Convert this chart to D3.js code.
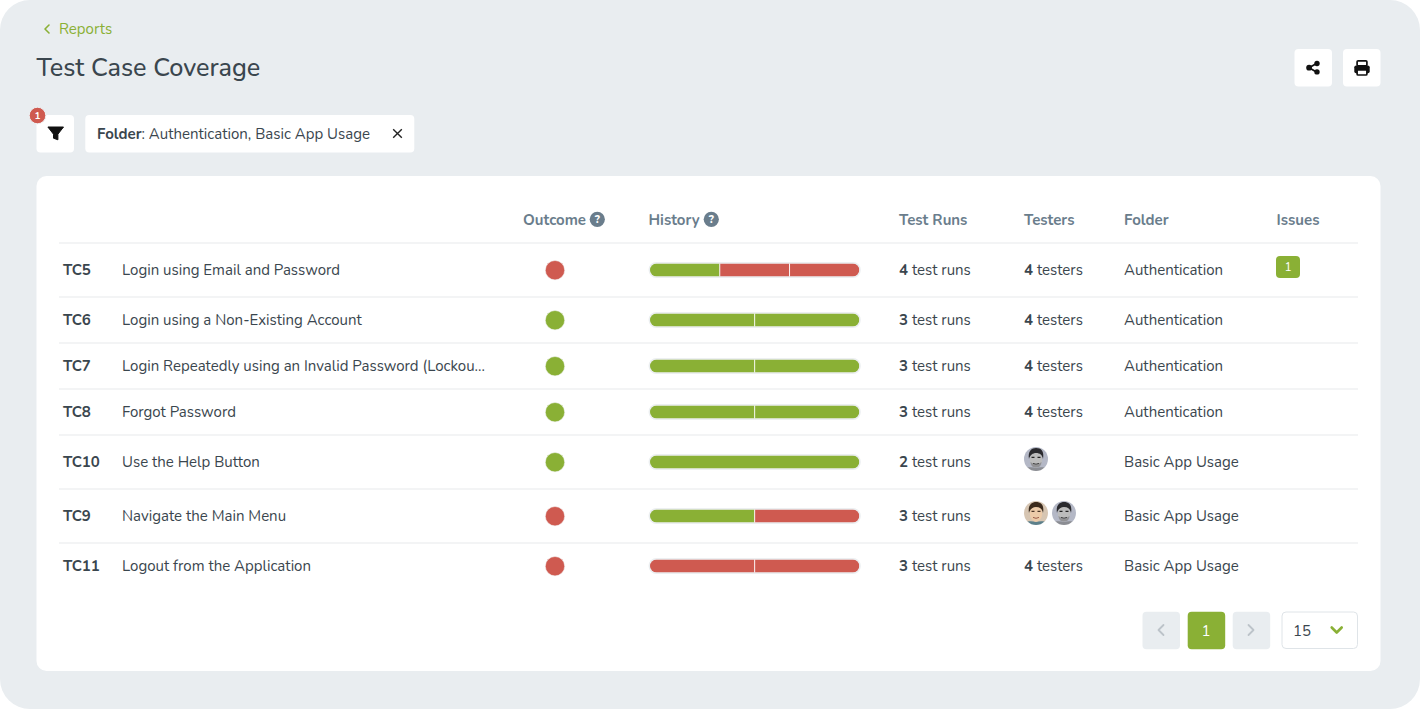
<!DOCTYPE html>
<html>
<head>
<meta charset="utf-8">
<script src="https://cdn.jsdelivr.net/npm/d3@7"></script>
<style>
  html, body { margin: 0; padding: 0; background: #fff; }
  svg { display: block; }
  text { font-family: "Nunito", "Lato", "Noto Sans", sans-serif; }
</style>
</head>
<body>
<div id="chart"></div>
<script>
// table data
var caseIds = ["TC5", "TC6", "TC7", "TC8", "TC10", "TC9", "TC11"];
var caseNames = [
  "Login using Email and Password",
  "Login using a Non-Existing Account",
  "Login Repeatedly using an Invalid Password (Lockou...",
  "Forgot Password",
  "Use the Help Button",
  "Navigate the Main Menu",
  "Logout from the Application"
];
var outcomes = ["fail", "pass", "pass", "pass", "pass", "fail", "fail"];
var histories = [
  ["pass", "fail", "fail"],
  ["pass", "pass"],
  ["pass", "pass"],
  ["pass", "pass"],
  ["pass"],
  ["pass", "fail"],
  ["fail", "fail"]
];
var testRuns = [4, 3, 3, 3, 2, 3, 3];
var testerCounts = [4, 4, 4, 4, null, null, 4];
var testerAvatars = [[], [], [], [], ["gray"], ["color", "gray"], []];
var folders = ["Authentication", "Authentication", "Authentication", "Authentication",
  "Basic App Usage", "Basic App Usage", "Basic App Usage"];
var issues = [1, 0, 0, 0, 0, 0, 0];

var colors = { pass: "#8ab035", fail: "#cf5a50" };
var ink = "#3a464e", headInk = "#6a7d8c", line = "#eff1f2", pageBg = "#e9edf0";

var width = 1420, height = 709;
var svg = d3.select("#chart").append("svg").attr("width", width).attr("height", height);

svg.append("rect").attr("width", width).attr("height", height).attr("rx", 30).attr("fill", pageBg);

var defs = svg.append("defs");
defs.append("filter").attr("id", "soft").append("feGaussianBlur").attr("stdDeviation", 0.45);
defs.append("clipPath").attr("id", "avatarClip").append("circle").attr("r", 12);

function txt(x, y, s, size, fill, weight, anchor) {
  return svg.append("text").attr("x", x).attr("y", y).attr("dy", "0.35em")
    .attr("font-size", size).attr("fill", fill).attr("font-weight", weight || 400)
    .attr("text-anchor", anchor || "start").text(s);
}
function box(x, y, w, h, fill, r) {
  return svg.append("rect").attr("x", x).attr("y", y).attr("width", w).attr("height", h)
    .attr("rx", r || 4).attr("fill", fill || "#fff");
}
function chevron(cx, cy, size, dir, color, sw) {
  var d = dir == "left" ? [[size / 2, -size], [-size / 2, 0], [size / 2, size]]
    : dir == "right" ? [[-size / 2, -size], [size / 2, 0], [-size / 2, size]]
    : [[-size, -size / 2], [0, size / 2], [size, -size / 2]];
  svg.append("path").attr("transform", `translate(${cx},${cy})`)
    .attr("d", d3.line()(d)).attr("fill", "none").attr("stroke", color)
    .attr("stroke-width", sw).attr("stroke-linecap", "round").attr("stroke-linejoin", "round");
}

// header
chevron(47, 29, 4, "left", colors.pass, 1.6);
txt(59, 29, "Reports", 15, colors.pass);
txt(36.5, 67.5, "Test Case Coverage", 25.2, ink, 500);

// share + print buttons
box(1294.5, 49, 37.5, 37.5);
box(1343, 49, 37.5, 37.5);
var share = svg.append("g").attr("transform", "translate(1313,67.7)");
share.append("path").attr("d", "M4,-4.5L-4,0L4,4.5").attr("stroke", "#111").attr("stroke-width", 1.8).attr("fill", "none");
share.selectAll("circle").data([[4, -4.2, 2.7], [-3.9, 0, 2.9], [4, 4.2, 2.7]]).join("circle")
  .attr("cx", d => d[0]).attr("cy", d => d[1]).attr("r", d => d[2]).attr("fill", "#111");
var printer = svg.append("g").attr("transform", "translate(1362,68)");
printer.append("rect").attr("x", -4.9).attr("y", -7.2).attr("width", 9.8).attr("height", 5).attr("rx", 1)
  .attr("fill", "none").attr("stroke", "#111").attr("stroke-width", 1.7);
printer.append("rect").attr("x", -7.7).attr("y", -2.6).attr("width", 15.4).attr("height", 7.8).attr("rx", 1.8).attr("fill", "#111");
printer.append("rect").attr("x", -4.9).attr("y", 2).attr("width", 9.8).attr("height", 5).attr("rx", 1)
  .attr("fill", "#fff").attr("stroke", "#111").attr("stroke-width", 1.7);

// filter row
box(36.5, 115, 37.5, 37.5);
svg.append("path").attr("transform", "translate(55.7,133.2)")
  .attr("d", "M-7.8,-6.2H7.8L2.2,1V6.6L-2.2,5V1Z").attr("fill", "#111").attr("stroke", "#111").attr("stroke-linejoin", "round");
svg.append("circle").attr("cx", 37.5).attr("cy", 115.5).attr("r", 8.3).attr("fill", colors.fail).attr("stroke", "#eef1f3");
txt(37.5, 115.5, "1", 10, "#fff", 700, "middle");
box(85.3, 115, 329, 37.5);
var chip = txt(97, 133.5, "", 15, ink);
chip.append("tspan").attr("font-weight", 700).text("Folder");
chip.append("tspan").text(": Authentication, Basic App Usage");
svg.append("path").attr("transform", "translate(397.5,133.5)").attr("d", "M-4.3,-4.3L4.3,4.3M4.3,-4.3L-4.3,4.3")
  .attr("stroke", "#222").attr("stroke-width", 1.4);

// table card
box(36.5, 176, 1344, 495, "#fff", 10);

var headers = [["Outcome", 523], ["History", 648.5], ["Test Runs", 899], ["Testers", 1024], ["Folder", 1124], ["Issues", 1276.5]];
headers.forEach(function(h) { txt(h[1], 219.5, h[0], 15, headInk, 700); });
[[597.3, 219.3], [711.3, 219.3]].forEach(function(p) {
  svg.append("circle").attr("cx", p[0]).attr("cy", p[1]).attr("r", 7.6).attr("fill", headInk);
  txt(p[0], p[1], "?", 11, "#fff", 800, "middle");
});

// rows get taller when they hold a badge or avatars
var rows = caseIds.map(function(id, i) {
  return { id: id, i: i, h: issues[i] > 0 || testerAvatars[i].length > 0 ? 54 : 46 };
});
var y0 = 243;
rows.forEach(function(r) { r.top = y0; r.cy = y0 + r.h / 2; y0 += r.h; });

var histX = d3.scaleLinear().domain([0, 1]).range([650, 859.3]);

rows.forEach(function(r) {
  var i = r.i;
  svg.append("line").attr("x1", 59).attr("x2", 1358).attr("y1", r.top).attr("y2", r.top)
    .attr("stroke", line).attr("stroke-width", 1.5);
  txt(63, r.cy, r.id, 15, ink, 700);
  txt(122, r.cy, caseNames[i], 15, ink);

  svg.append("circle").attr("cx", 555).attr("cy", r.cy + 0.2).attr("r", 9.7).attr("fill", colors[outcomes[i]])
    .attr("stroke", "#f1f3f4").attr("stroke-width", 0.6);

  // history bar, one equal segment per entry
  var hist = histories[i];
  var clipId = "clip" + i;
  svg.append("clipPath").attr("id", clipId).append("rect")
    .attr("x", histX(0)).attr("y", r.cy - 6.5).attr("width", histX(1) - histX(0)).attr("height", 13).attr("rx", 6.5);
  svg.append("rect").attr("x", histX(0) - 1.5).attr("y", r.cy - 8).attr("width", histX(1) - histX(0) + 3)
    .attr("height", 16).attr("rx", 8).attr("fill", "#eceff1");
  svg.append("g").attr("clip-path", `url(#${clipId})`).selectAll("rect").data(hist).join("rect")
    .attr("x", (d, k) => histX(k / hist.length))
    .attr("width", histX(1 / hist.length) - histX(0))
    .attr("y", r.cy - 6.5).attr("height", 13).attr("fill", d => colors[d]);
  svg.selectAll(null).data(hist.slice(1)).join("rect")
    .attr("x", (d, k) => histX((k + 1) / hist.length) - 0.5).attr("width", 1)
    .attr("y", r.cy - 6.5).attr("height", 13).attr("fill", "#fff").attr("opacity", 0.9);

  var runs = txt(899, r.cy, "", 15, ink);
  runs.append("tspan").attr("font-weight", 700).text(testRuns[i]);
  runs.append("tspan").text(" test runs");

  if (testerCounts[i] != null) {
    var t = txt(1024, r.cy, "", 15, ink);
    t.append("tspan").attr("font-weight", 700).text(testerCounts[i]);
    t.append("tspan").text(" testers");
  }
  testerAvatars[i].forEach(function(kind, k) {
    drawAvatar(1036 + k * 28, r.cy - 3, kind);
  });

  txt(1124, r.cy, folders[i], 15, ink);

  if (issues[i] > 0) {
    box(1276, r.cy - 14, 24, 22, colors.pass, 4);
    txt(1288, r.cy - 3, issues[i], 12, "#fff", 400, "middle");
  }
});

function drawAvatar(cx, cy, kind) {
  var color = kind == "color";
  var g = svg.append("g").attr("transform", `translate(${cx},${cy})`)
    .append("g").attr("clip-path", "url(#avatarClip)")
    .append("g").attr("filter", "url(#soft)");
  g.append("rect").attr("x", -13).attr("y", -13).attr("width", 26).attr("height", 26)
    .attr("fill", color ? "#d6c5b2" : "#b4b8c6");
  // shoulders
  g.append("path").attr("d", "M-13,13V10C-8,8 -4,8 0,9C4,8 8,8 13,10V13Z")
    .attr("fill", color ? "#5b7f8a" : "#8b8d93");
  // face
  g.append("ellipse").attr("cx", 0).attr("cy", 0.5).attr("rx", 6.2).attr("ry", 8.2)
    .attr("fill", color ? "#eccba9" : "#bcbcbc");
  // hair
  g.append("path").attr("d", "M-7,0C-8.5,-8 -4,-11 0,-11C5,-11 8.5,-8 7,0C6.3,-4 4,-6 0,-6C-3,-6 -6,-4 -7,0Z")
    .attr("fill", color ? "#3a2c1e" : "#2b2b2d");
  // brows, eyes, mouth
  g.append("path").attr("d", "M-4.5,-1.6H-1.5M1.5,-1.6H4.5")
    .attr("stroke", color ? "#4a3526" : "#222").attr("stroke-width", 1.3).attr("fill", "none");
  g.append("path").attr("d", "M-3,4.4Q0,6.2 3,4.4")
    .attr("stroke", color ? "#9c5f4c" : "#333").attr("stroke-width", 1).attr("fill", "none");
  if (!color) {
    // stubble
    g.append("path").attr("d", "M-5.5,3C-5,8 -2,8.5 0,8.5C2,8.5 5,8 5.5,3C3,5.5 -3,5.5 -5.5,3Z")
      .attr("fill", "#77777a").attr("opacity", 0.6);
  }
}

// pagination
box(1142.5, 611.7, 37.5, 37.5, pageBg);
chevron(1161, 630, 5, "left", "#bcc3c9", 1.8);
box(1187.7, 611.7, 37.5, 37.5, colors.pass);
txt(1206, 630.5, "1", 15, "#fff", 400, "middle");
box(1232.7, 611.7, 37.5, 37.5, pageBg);
chevron(1251, 630, 5, "right", "#bcc3c9", 1.8);
box(1282, 612, 75.5, 36.5, "#fff").attr("stroke", "#dfe4e8");
txt(1293, 630.5, "15", 15, ink);
chevron(1336.7, 630, 5, "down", colors.pass, 2.6);
</script>
</body>
</html>
